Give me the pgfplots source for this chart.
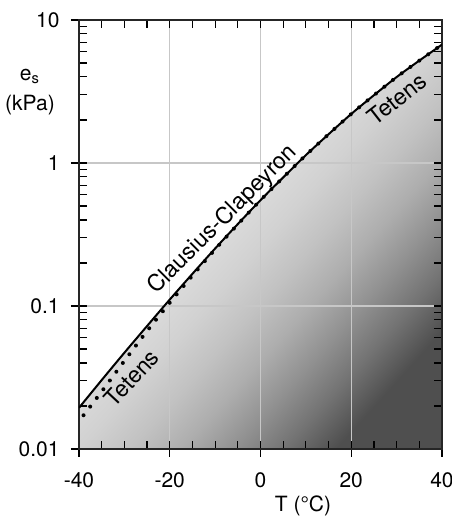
\documentclass[border=0pt]{standalone}
\usepackage{pgfplots}
\pgfplotsset{compat=1.18}
\usepackage{fontspec}
\setmainfont{TeX Gyre Heros}
\pgfdeclareverticalshading{esshade}{100bp}{color(0bp)=(black!69); color(25bp)=(black!69); color(30bp)=(black!55); color(35bp)=(black!43); color(40bp)=(black!32); color(45bp)=(black!24); color(50bp)=(black!18); color(55bp)=(black!14); color(75bp)=(black!6); color(100bp)=(black!6)}
\begin{document}
\begin{tikzpicture}
\begin{axis}[
  name=ax,
  set layers,
  scale only axis, width=181.5pt, height=214.5pt,
  xmin=-40, xmax=40, ymode=log, ymin=0.01, ymax=10,
  xtick={-40,-20,0,20,40}, xticklabels={-40,-20,0,20,40},
  minor xtick={-35,-30,-25,-15,-10,-5,5,10,15,25,30,35},
  ytick={0.01,0.1,1,10}, yticklabels={0.01,0.1,1,10},
  minor ytick={0.02,0.03,0.04,0.05,0.06,0.07,0.08,0.09,0.2,0.3,0.4,0.5,0.6,0.7,0.8,0.9,2,3,4,5,6,7,8,9},
  tick align=inside, major tick length=4pt, minor tick length=4pt,
  every tick/.style={black, line width=0.6pt},
  extra x ticks={-40,-20,0,20,40}, extra x tick labels={},
  extra x tick style={tick align=outside, grid=none, xtick pos=left},
  extra y ticks={0.01,0.1,1,10}, extra y tick labels={},
  extra y tick style={tick align=outside, grid=none, ytick pos=left},
  grid=major, major grid style={draw=black!22, line width=0.6pt},
  axis line style={black!85, line width=0.9pt},
  tick label style={font=\fontsize{10.5}{12}\selectfont, inner sep=0pt},
  xticklabel style={anchor=base, yshift=-19.5pt},
  yticklabel style={anchor=east, xshift=-9.5pt},
]
\addplot[draw=none, on layer=axis background, shade, shading=esshade, shading angle=48]
coordinates {(-40,0.01941)(-35,0.03034)(-30,0.04710)(-25,0.07244)(-20,0.1109)(-15,0.1679)(-10,0.2523)(-5,0.3741)(0,0.5495)(5,0.7925)(10,1.135)(15,1.589)(20,2.203)(25,2.979)(30,3.990)(35,5.200)(40,6.730)(40,0.01)(-40,0.01)} -- cycle;
\addplot[black, line width=1.0pt, smooth]
coordinates {(-40,0.01941)(-35,0.03034)(-30,0.04710)(-25,0.07244)(-20,0.1109)(-15,0.1679)(-10,0.2523)(-5,0.3741)(0,0.5495)(5,0.7925)(10,1.135)(15,1.589)(20,2.203)(25,2.979)(30,3.990)(35,5.200)(40,6.730)};
\addplot[black, line width=2.0pt, line cap=round, dash pattern=on 0pt off 5.45pt, smooth]
coordinates {(-39,0.01722)(-35,0.02523)(-30,0.04130)(-25,0.06683)(-20,0.1054)(-15,0.1633)(-10,0.2489)(-5,0.3724)(0,0.5495)(5,0.7925)(10,1.135)(15,1.589)(20,2.203)(25,2.979)(30,3.990)(35,5.200)(40,6.730)};
\node[rotate=45, font=\fontsize{11.5}{13}\selectfont] at (axis cs:-8.3,0.40) {Clausius-Clapeyron};
\node[rotate=47, font=\fontsize{11.5}{13}\selectfont] at (axis cs:-28.4,0.0315) {Tetens};
\node[rotate=38, font=\fontsize{11.5}{13}\selectfont] at (axis cs:30,2.81) {Tetens};
\end{axis}
\node[anchor=base, font=\fontsize{10.5}{12}\selectfont] at ([shift={(112pt,-31pt)}]ax.south west) {T (°C)};
\node[align=center, font=\fontsize{10.5}{15}\selectfont] at ([shift={(-24.5pt,178.5pt)}]ax.south west) {e\textsubscript{s}\\(kPa)};
\pgfresetboundingbox
\path ([shift={(-39.5pt,-34.5pt)}]ax.south west) rectangle ([shift={(186pt,224.5pt)}]ax.south west);
\end{tikzpicture}
\end{document}
